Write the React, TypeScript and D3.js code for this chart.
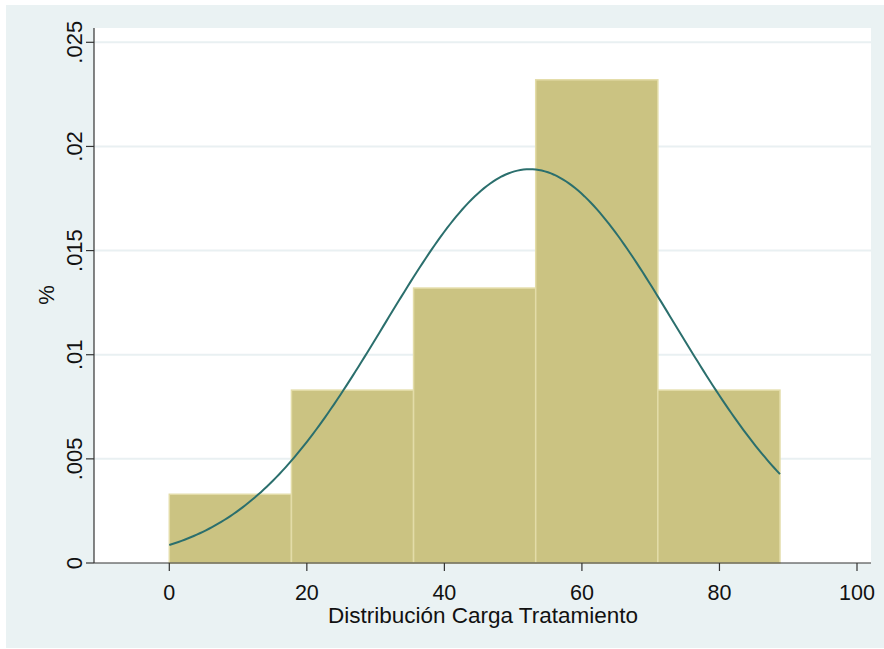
import React from "react";
import * as d3 from "d3";

// Histogram bins (density scale) for "Distribución Carga Tratamiento"
const binEdges = [0, 17.76, 35.52, 53.28, 71.04, 88.8];
const binDensity = [0.0033, 0.0083, 0.0132, 0.0232, 0.0083];

// Fitted normal curve parameters
const normalMean = 52.4;
const normalSd = 21.1;
const dataMin = 0;
const dataMax = 88.8;

const xTicks = [0, 20, 40, 60, 80, 100];
const yTicks = [0, 0.005, 0.01, 0.015, 0.02, 0.025];
const yTickLabels = ["0", ".005", ".01", ".015", ".02", ".025"];

const W = 884;
const H = 649;
const plot = { left: 94, right: 871, top: 28, bottom: 563 };

const FONT = "'Liberation Sans', Arial, sans-serif";

export default function App() {
  const x = d3
    .scaleLinear()
    .domain([0, 100])
    .range([169.3, 857]);
  const y = d3
    .scaleLinear()
    .domain([0, 0.025])
    .range([plot.bottom, 42.3]);

  const normalPdf = (v: number) =>
    Math.exp(-((v - normalMean) ** 2) / (2 * normalSd * normalSd)) /
    (normalSd * Math.sqrt(2 * Math.PI));

  const curvePts: [number, number][] = d3
    .range(0, 201)
    .map((i) => dataMin + ((dataMax - dataMin) * i) / 200)
    .map((v) => [v, normalPdf(v)]);

  const line = d3
    .line<[number, number]>()
    .x((d) => x(d[0]))
    .y((d) => y(d[1]))
    .curve(d3.curveLinear);

  return (
    <svg
      width={W}
      height={H}
      style={{ position: "absolute", left: 0, top: 0, display: "block" }}
    >
      <rect x={0} y={0} width={W} height={H} fill="#ffffff" />
      <rect x={6} y={5} width={W - 6} height={H - 5 - 1} fill="#EAF2F3" />
      <rect
        x={plot.left}
        y={plot.top}
        width={plot.right - plot.left}
        height={plot.bottom - plot.top}
        fill="#ffffff"
      />

      {/* horizontal grid lines */}
      {yTicks.slice(1).map((t) => (
        <line
          key={"g" + t}
          x1={plot.left}
          x2={plot.right}
          y1={y(t)}
          y2={y(t)}
          stroke="#E9F0F2"
          strokeWidth={2}
        />
      ))}

      {/* histogram bars */}
      {binDensity.map((dv, i) => (
        <rect
          key={"b" + i}
          x={x(binEdges[i])}
          y={y(dv)}
          width={x(binEdges[i + 1]) - x(binEdges[i])}
          height={y(0) - y(dv)}
          fill="#CBC382"
          stroke="#E3DCA8"
          strokeWidth={1.5}
        />
      ))}

      {/* normal density */}
      <path
        d={line(curvePts) || ""}
        fill="none"
        stroke="#2B6F6D"
        strokeWidth={2}
      />

      {/* axes */}
      <line
        x1={plot.left}
        x2={plot.left}
        y1={plot.top}
        y2={plot.bottom}
        stroke="#333333"
        strokeWidth={1.2}
      />
      <line
        x1={plot.left}
        x2={plot.right}
        y1={plot.bottom}
        y2={plot.bottom}
        stroke="#333333"
        strokeWidth={1.2}
      />

      {yTicks.map((t, i) => (
        <g key={"yt" + t}>
          <line
            x1={plot.left - 8}
            x2={plot.left}
            y1={y(t)}
            y2={y(t)}
            stroke="#333333"
            strokeWidth={1.2}
          />
          <text
            transform={`translate(82,${y(t)}) rotate(-90)`}
            textAnchor="middle"
            fontFamily={FONT}
            fontSize={22}
            fill="#111"
          >
            {yTickLabels[i]}
          </text>
        </g>
      ))}

      {xTicks.map((t) => (
        <g key={"xt" + t}>
          <line
            x1={x(t)}
            x2={x(t)}
            y1={plot.bottom}
            y2={plot.bottom + 8}
            stroke="#333333"
            strokeWidth={1.2}
          />
          <text
            x={x(t)}
            y={600}
            textAnchor="middle"
            fontFamily={FONT}
            fontSize={21.5}
            fill="#111"
          >
            {t}
          </text>
        </g>
      ))}

      <text
        x={483}
        y={623}
        textAnchor="middle"
        fontFamily={FONT}
        fontSize={22.5}
        fill="#111"
      >
        Distribución Carga Tratamiento
      </text>
      <text
        transform={`translate(54,295) rotate(-90)`}
        textAnchor="middle"
        fontFamily={FONT}
        fontSize={22}
        fill="#111"
      >
        %
      </text>
    </svg>
  );
}
